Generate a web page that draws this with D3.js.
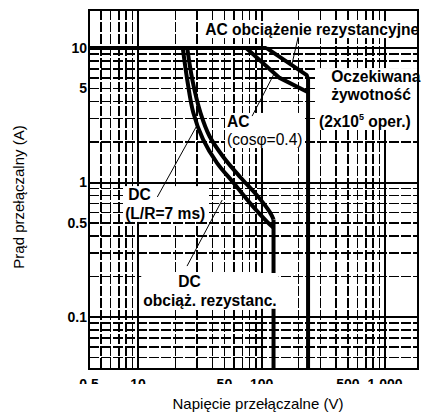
<!DOCTYPE html>
<html>
<head>
<meta charset="utf-8">
<script src="https://cdn.jsdelivr.net/npm/d3@7/dist/d3.min.js"></script>
<style>
  body { margin: 0; background: #fff; }
  text { font-family: "Liberation Sans", Arial, sans-serif; fill: #000; }
</style>
</head>
<body>
<svg id="chart" width="424" height="414"></svg>
<script>
// axis ranges and ticks (V, A)
var xDomain = [4, 1850]
var yDomain = [0.041, 19.2]
var xTicks = [4, 10, 50, 100, 500, 1000]
var xTickLabels = ["0.5", "10", "50", "100", "500", "1,000"]
var yTicks = [10, 5, 1, 0.5, 0.1]
var yTickLabels = ["10", "5", "1", "0.5", "0.1"]
var xGrid = [5, 6, 7, 8, 9, 10, 20, 30, 40, 50, 60, 70, 80, 90, 100, 200, 300, 400, 500, 600, 700, 800, 900, 1000]
var yGrid = [0.05, 0.06, 0.07, 0.08, 0.09, 0.1, 0.2, 0.3, 0.4, 0.5, 0.6, 0.7, 0.8, 0.9, 1, 2, 3, 4, 5, 6, 7, 8, 9, 10]
var xMajor = [10, 100, 1000]
var yMajor = [0.1, 1, 10]

// curves [V, A]
var ratedLine = [[4, 10], [110, 10]]
var acResistive = [[110, 10], [232, 6.3], [238, 5.9], [238, 0.041]]
var acInductive = [[75, 10], [140, 6.0], [238, 4.7]]
var dcResistive = [[25, 10], [27.5, 5.8], [32, 3.3], [38, 2.2], [49, 1.55], [67, 1.1], [92, 0.8], [117, 0.6], [125, 0.53]]
var dcLimit = [[125, 0.53], [125, 0.041]]
var dcInductive = [[23, 10], [25, 5.8], [28, 3.3], [33.5, 2.1], [43.5, 1.4], [59, 1.0], [81, 0.7], [111, 0.51], [125, 0.46]]

// annotations: lines of text [V, A, text, bold]
var notes = [
  [[34.9, 12.5, "AC obciążenie rezystancyjne", true]],
  [[366, 5.59, "Oczekiwana", true], [366, 4.10, "żywotność", true], [292, 2.59, "(2x10|5| oper.)", true]],
  [[52.5, 2.59, "AC", true], [52.5, 1.90, "(cosφ=0.4)", false]],
  [[8.3, 0.74, "DC", true], [7.85, 0.536, "(L/R=7 ms)", true]],
  [[21.1, 0.167, "DC", true], [11.0, 0.121, "obciąż. rezystanc.", true]]
]
var pointers = [
  [[198, 12.1], [177, 7.7]],
  [[83.8, 3.12], [128.5, 6.63]],
  [[14.3, 0.78], [29.5, 2.59]],
  [[24.9, 0.239], [47.9, 0.74]]
]

var svg = d3.select("#chart")
var m = {left: 89, right: 418, top: 10, bottom: 369}

var x = d3.scaleLog().domain(xDomain).range([m.left, m.right])
var y = d3.scaleLog().domain(yDomain).range([m.bottom, m.top])

// grid
var grid = svg.append("g").attr("stroke", "#000").attr("shape-rendering", "crispEdges")
grid.selectAll(".vx").data(xGrid).enter().append("line")
  .attr("x1", function(d) { return x(d) }).attr("x2", function(d) { return x(d) })
  .attr("y1", m.top).attr("y2", m.bottom)
  .attr("stroke-width", function(d) { return xMajor.indexOf(d) >= 0 ? 2 : 1.5 })
  .attr("stroke-dasharray", function(d) { return xMajor.indexOf(d) >= 0 ? null : "10,2" })
grid.selectAll(".hy").data(yGrid).enter().append("line")
  .attr("x1", m.left).attr("x2", m.right)
  .attr("y1", function(d) { return y(d) }).attr("y2", function(d) { return y(d) })
  .attr("stroke-width", function(d) { return yMajor.indexOf(d) >= 0 ? 2 : 1.5 })
  .attr("stroke-dasharray", function(d) { return yMajor.indexOf(d) >= 0 ? null : "10,2" })

// curves
var straight = d3.line().x(function(d) { return x(d[0]) }).y(function(d) { return y(d[1]) })
var smooth = d3.line().x(function(d) { return x(d[0]) }).y(function(d) { return y(d[1]) }).curve(d3.curveCatmullRom)

var curves = svg.append("g").attr("fill", "none").attr("stroke", "#000").attr("stroke-width", 4)
  .attr("stroke-linejoin", "round")
curves.append("path").attr("d", straight(ratedLine))
curves.append("path").attr("d", straight(acResistive))
curves.append("path").attr("d", straight(acInductive))
curves.append("path").attr("d", smooth(dcResistive))
curves.append("path").attr("d", straight(dcLimit))
curves.append("path").attr("d", smooth(dcInductive))

// annotation text with white backing
var noteG = svg.append("g")
notes.forEach(function(block) {
  var g = noteG.append("g")
  var bg = g.append("rect").attr("fill", "#fff")
  block.forEach(function(n) {
    var t = g.append("text")
      .attr("x", x(n[0])).attr("y", y(n[1]))
      .attr("font-size", 15.6)
      .attr("font-weight", n[3] ? "bold" : "normal")
    var parts = n[2].split("|")
    t.append("tspan").text(parts[0])
    if (parts.length > 1) {
      t.append("tspan").attr("font-size", 9).attr("dy", -7).text(parts[1])
      t.append("tspan").attr("dy", 7).text(parts[2])
    }
  })
  var b = g.node().getBBox()
  bg.attr("x", b.x - 2).attr("y", b.y).attr("width", b.width + 4).attr("height", b.height)
})

svg.append("g").attr("stroke", "#000").attr("stroke-width", 1)
  .selectAll("line").data(pointers).enter().append("line")
  .attr("x1", function(d) { return x(d[0][0]) }).attr("y1", function(d) { return y(d[0][1]) })
  .attr("x2", function(d) { return x(d[1][0]) }).attr("y2", function(d) { return y(d[1][1]) })

// frame
svg.append("rect")
  .attr("x", m.left).attr("y", m.top)
  .attr("width", m.right - m.left).attr("height", m.bottom - m.top)
  .attr("fill", "none").attr("stroke", "#000").attr("stroke-width", 2)

// tick labels
svg.append("g").selectAll("text").data(yTicks).enter().append("text")
  .attr("x", m.left - 2).attr("y", function(d) { return y(d) })
  .attr("dy", "0.35em").attr("text-anchor", "end")
  .attr("font-size", 14).attr("font-weight", "bold")
  .text(function(d, i) { return yTickLabels[i] })

svg.append("clipPath").attr("id", "cut").append("rect")
  .attr("x", 0).attr("y", 0).attr("width", 424).attr("height", 384)
svg.append("g").attr("clip-path", "url(#cut)")
  .selectAll("text").data(xTicks).enter().append("text")
  .attr("x", function(d) { return x(d) }).attr("y", 389)
  .attr("text-anchor", "middle")
  .attr("font-size", 14).attr("font-weight", "bold")
  .text(function(d, i) { return xTickLabels[i] })

// axis titles
svg.append("text")
  .attr("x", 258).attr("y", 409)
  .attr("text-anchor", "middle").attr("font-size", 15)
  .text("Napięcie przełączalne (V)")
svg.append("text")
  .attr("transform", "translate(24,197) rotate(-90)")
  .attr("text-anchor", "middle").attr("font-size", 15)
  .text("Prąd przełączalny (A)")
</script>
</body>
</html>
